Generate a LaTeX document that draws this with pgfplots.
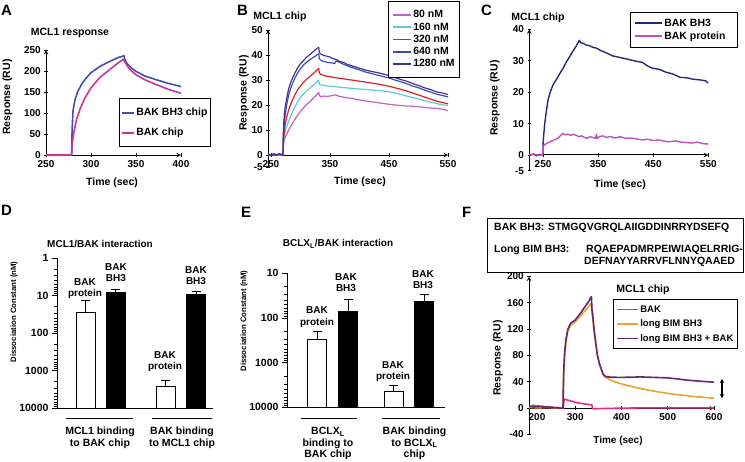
\documentclass[border=0pt]{standalone}
\usepackage{pgfplots}
\pgfplotsset{compat=1.18}
\usepackage{pgfplotstable}
\usepackage{fontspec}
\setmainfont{Liberation Sans}
\usetikzlibrary{arrows.meta}
\newcommand{\fs}[1]{\fontsize{#1bp}{#1bp}\selectfont\bfseries}
\newcommand{\lab}[3]{\node[anchor=base,inner sep=0] at (#1bp,-#2bp) {\fs{10}#3};}

\definecolor{aBlue}{HTML}{4050A8}
\definecolor{aMag}{HTML}{CC3399}
\definecolor{b80}{HTML}{C060C0}
\definecolor{b160}{HTML}{60C8D8}
\definecolor{b320}{HTML}{E02020}
\definecolor{b640}{HTML}{3550B0}
\definecolor{b1280}{HTML}{4B2D8F}
\definecolor{cNavy}{HTML}{26287E}
\definecolor{cOrch}{HTML}{C050C0}
\definecolor{fPink}{HTML}{E8288A}
\definecolor{fOrange}{HTML}{F0A030}
\definecolor{fPurple}{HTML}{6A2470}

\pgfplotsset{
  base/.style={scale only axis, anchor=south west,
    axis line style={-, line width=1pt, black},
    tick style={black, line width=0.8pt}, tick align=outside,
    major tick length=3.5bp, minor tick length=2.5bp,
    /pgf/number format/assume math mode=true,
    tick label style={font=\fs{10}},
    every axis plot/.append style={mark=none, line width=1.2pt, line join=round},
    legend cell align=left,
  },
  kd/.style={scale only axis, anchor=south west,
    axis x line=bottom, axis y line=left,
    axis line style={-, line width=1pt, black},
    tick style={black, line width=0.8pt}, tick align=outside,
    major tick length=5bp, minor tick length=3bp,
    xtick=\empty, ymin=0,
    tick label style={font=\fs{10.5}},
  },
  ebar/.style={ybar, bar width=19, bar shift=0pt, draw=black, line width=1pt,
    error bars/.cd, y dir=plus, y explicit, error bar style={line width=1pt, black},
    error mark options={rotate=90, mark size=4.5bp, line width=1pt, black}},
}

\pgfplotstableread{
x kd tip
85.5 28 13.8
165.5 2600 1800
}\Dwhite
\pgfplotstableread{
x kd tip
115.5 8.3 6.8
196 9.2 7.8
}\Dblack
\pgfplotstableread{
x kd tip
317 300 196
393.5 4390 3270
}\Ewhite
\pgfplotstableread{
x kd tip
348 73 38
424 43 29.5
}\Eblack

\begin{document}
\begin{tikzpicture}
\path[use as bounding box] (0,0) rectangle (745bp,-462bp);

% ---------------- Panel A
\begin{axis}[base, at={(46bp,-155bp)}, width=135bp, height=105bp,
  xmin=250, xmax=400, ymin=0, ymax=250,
  axis x line=bottom, axis y line=left,
  xtick={250,300,350,400}, ytick={0,50,100,150,200,250},
  legend style={at={(axis description cs:0.5407,0.5429)}, anchor=north west,
    draw=black, line width=1pt, fill=white, font=\fs{10.5},
    inner xsep=2bp, inner ysep=8.5bp, row sep=8.5bp,
    nodes={inner sep=1bp, text height=7.5bp, text depth=2bp}},
  legend image code/.code={\draw[#1, line width=1.8pt] (0bp,0bp) -- (12bp,0bp);},
]
\addplot[aBlue, line width=1.6pt] coordinates {(250,0)(278.5,0)(279,60)(280,105)(282,130)(285,150)(290,170)(295,184)(300,196)(310,211)(320,222)(330,232)(335,235)(336.5,237)(337.5,228)(340,218)(345,207)(350,199)(360,188)(370,181)(385,171)(400,163)};
\addlegendentry{BAK BH3 chip}
\addplot[aMag, line width=1.6pt] coordinates {(250,0)(278.5,0)(279,25)(281,55)(284,85)(288,110)(293,135)(300,160)(310,185)(320,202)(330,219)(336,228)(338,220)(341,210)(345,200)(350,191)(360,179)(370,170)(385,157)(400,147)};
\addlegendentry{BAK chip}
\end{axis}

% ---------------- Panel B
\begin{axis}[base, at={(268bp,-167.5bp)}, width=180bp, height=137.5bp,
  xmin=245, xmax=550, ymin=-5, ymax=50,
  axis x line=middle, axis y line=left,
  hide obscured x ticks=false, hide obscured y ticks=false,
  xtick={250,350,450,550}, ytick={-5,0,10,20,30,40,50},
  legend style={at={(axis description cs:0.6667,1.2109)}, anchor=north west,
    draw=black, line width=1pt, fill=white, font=\fs{10.5},
    inner xsep=4bp, inner ysep=7.8bp, row sep=0.75bp,
    nodes={inner sep=1bp, text height=7.5bp, text depth=2bp}},
  legend image code/.code={\draw[#1, line width=1.8pt] (0bp,0bp) -- (18bp,0bp);},
]
\addplot[b80] coordinates {(245,0.2)(256,-0.2)(270.5,0)(271,3.5)(272,5.5)(274,7)(277,8.5)(280,10)(285,12)(290,14)(295,15.8)(300,17.4)(305,18.8)(310,20.1)(315,21.2)(320,22.3)(325,23.5)(329,24.5)(331,25)(332,23.8)(335,23.3)(340,23.6)(345,23.4)(350,23.6)(355,23.9)(360,24)(365,23.5)(370,23.3)(380,22.8)(390,22.5)(400,22)(410,21.6)(420,21.3)(430,21)(440,20.6)(450,20.3)(460,20)(470,19.8)(480,19.6)(490,19.5)(500,19.3)(510,19)(520,18.8)(530,18.7)(540,18.3)(550,17.8)};
\addlegendentry{80 nM}
\addplot[b160] coordinates {(245,0)(258,0.3)(270.5,0)(271,4)(272,6.5)(274,9.5)(277,11.5)(280,13.5)(285,16.5)(290,19)(295,21.2)(300,23)(305,24.3)(310,25.6)(315,26.6)(320,27.6)(325,28.6)(329,29.5)(331,29.8)(332,28.3)(335,28)(340,27.9)(345,27.6)(350,27.5)(360,27.3)(370,27)(380,26.8)(390,26.6)(400,26.4)(410,26.2)(420,26)(430,25.8)(440,25.6)(450,25.3)(460,24.8)(470,24.2)(480,23.6)(490,23)(500,22.5)(510,21.8)(520,21.2)(530,20.6)(540,20.1)(550,19.8)};
\addlegendentry{160 nM}
\addplot[b320] coordinates {(245,0.2)(255,-0.2)(262,0.3)(270.5,0)(271,5)(272,8)(274,12)(277,15.5)(280,18)(285,21.3)(290,23.8)(295,26)(300,27.6)(305,29)(310,30.2)(315,31.2)(320,32.2)(325,33.3)(329,34.2)(331,34.6)(332,32.8)(335,32.2)(340,31.8)(345,31.5)(350,31.3)(360,30.9)(370,30.6)(380,30.2)(390,29.9)(400,29.5)(410,29.2)(420,28.8)(430,28.4)(440,28)(450,27.5)(460,26.9)(470,26.3)(480,25.6)(490,24.8)(500,24)(510,23.2)(520,22.4)(530,21.6)(540,21)(550,20.5)};
\addlegendentry{320 nM}
\addplot[b640] coordinates {(245,-0.3)(252,0.3)(258,0)(264,0.5)(270.5,0)(271,7)(272,11)(274,16)(277,20.5)(280,24)(285,27.8)(290,30.5)(295,32.8)(300,34.5)(305,36)(310,37)(315,38)(320,38.8)(325,39.5)(329,40.2)(331,40.5)(332,38.5)(335,37.8)(340,37.4)(345,37.1)(350,36.9)(355,36.8)(358,36.5)(360,37.6)(365,37.2)(370,36.6)(380,35.6)(390,34.8)(400,34)(410,33.2)(420,32.6)(430,32)(440,31.4)(450,30.8)(460,30)(470,29.3)(480,28.5)(490,27.6)(500,26.9)(510,26)(520,25.2)(530,24.4)(540,23.8)(550,23.3)};
\addlegendentry{640 nM}
\addplot[b1280] coordinates {(245,0.4)(250,-0.2)(255,0.5)(260,0)(265,0.3)(270.5,0.2)(271,9)(272,14)(274,19)(277,23)(280,26.5)(285,30)(290,32.5)(295,34.8)(300,36.5)(305,37.8)(310,39)(315,40)(320,41)(325,42)(329,42.8)(331,43)(332,41)(335,40.3)(340,39.8)(345,39.5)(350,39.2)(355,38.5)(360,38.3)(365,37.6)(370,37.2)(375,36.8)(380,36.1)(385,35.9)(390,35.4)(395,35.1)(400,34.7)(410,34)(420,33.4)(430,33)(440,32.4)(450,31.8)(460,31)(470,30.2)(480,29.5)(490,28.6)(500,27.8)(510,26.9)(520,26.2)(530,25.3)(540,24.8)(550,24.2)};
\addlegendentry{1280 nM}
\end{axis}

% ---------------- Panel C
\begin{axis}[base, at={(529.3bp,-170.7bp)}, width=179bp, height=141.4bp,
  xmin=225, xmax=550, ymin=-5, ymax=40,
  axis x line=middle, axis y line=left,
  hide obscured x ticks=false, hide obscured y ticks=false,
  xtick={250,350,450,550}, ytick={-5,0,10,20,30,40},
  legend style={at={(axis description cs:0.5626,1.1223)}, anchor=north west,
    draw=black, line width=1pt, fill=white, font=\fs{10.5},
    inner xsep=4bp, inner ysep=5bp, row sep=1.5bp,
    nodes={inner sep=1bp, text height=7.5bp, text depth=2bp}},
  legend image code/.code={\draw[#1, line width=1.8pt] (0bp,0bp) -- (27bp,0bp);},
]
\addplot[cNavy, line width=1.4pt] coordinates {(225,0)(232,0.3)(238,-0.2)(244,0.2)(249.5,0)(250,3.5)(251,6)(253,10)(256,14)(259,17.5)(263,20)(268,22.3)(274,24)(280,25.8)(286,27.5)(292,29.5)(298,31.2)(304,33)(310,34.6)(315,36.2)(316,36.5)(318,35.8)(322,35.6)(328,35)(334,34.8)(340,34.3)(347,34)(355,33.2)(365,32.5)(375,31.6)(385,31.2)(398,30.7)(410,30.2)(420,29.8)(430,29.5)(440,28.3)(449,27.6)(460,27.3)(474,26.3)(485,25.8)(499,24.7)(510,24.6)(523,24.1)(535,23.9)(545,23.6)(550,22.9)};
\addlegendentry{BAK BH3}
\addplot[cOrch, line width=1.4pt] coordinates {(225,0)(235,0.2)(245,-0.1)(249.5,0.3)(250,2.8)(253,3.3)(258,3.8)(264,4.3)(270,4.8)(276,5.2)(282,6.2)(286,6.9)(290,6.4)(295,6.7)(300,6.2)(305,6.6)(310,6.3)(315,5.8)(320,6.1)(325,5.6)(330,5.3)(335,5.8)(340,5.6)(345,5.3)(347,6.6)(348,5.2)(352,5.8)(358,6.1)(365,5.6)(372,5.9)(380,5.4)(390,5.8)(400,5.3)(410,5.4)(420,5.1)(430,4.8)(440,5)(450,4.6)(460,4.8)(470,4.4)(480,4.2)(490,4.5)(500,4.1)(510,4)(520,3.8)(530,4.1)(540,3.6)(550,3.5)};
\addlegendentry{BAK protein\hspace*{7bp}}
\end{axis}

% ---------------- Panel D
\begin{axis}[kd, at={(57bp,-408bp)}, width=156bp, height=150bp,
  xmin=57, xmax=213, ymax=4,
  ytick={0,1,2,3,4}, yticklabels={10000,1000,100,10,1},
  minor ytick={0.0458,0.0969,0.1549,0.2218,0.301,0.3979,0.5229,0.699,
    1.0458,1.0969,1.1549,1.2218,1.301,1.3979,1.5229,1.699,
    2.0458,2.0969,2.1549,2.2218,2.301,2.3979,2.5229,2.699,
    3.0458,3.0969,3.1549,3.2218,3.301,3.3979,3.5229,3.699},
]
\addplot[fill=white, ebar]
  table[x=x, y expr={ln(10000/\thisrow{kd})/ln(10)}, y error expr={ln(\thisrow{kd}/\thisrow{tip})/ln(10)}] {\Dwhite};
\addplot[fill=black, ebar]
  table[x=x, y expr={ln(10000/\thisrow{kd})/ln(10)}, y error expr={ln(\thisrow{kd}/\thisrow{tip})/ln(10)}] {\Dblack};
\end{axis}

% ---------------- Panel E
\begin{axis}[kd, at={(287bp,-407.3bp)}, width=158bp, height=134bp,
  xmin=287, xmax=445, ymax=3,
  ytick={0,1,2,3}, yticklabels={10000,1000,100,10},
  minor ytick={0.0458,0.0969,0.1549,0.2218,0.301,0.3979,0.5229,0.699,
    1.0458,1.0969,1.1549,1.2218,1.301,1.3979,1.5229,1.699,
    2.0458,2.0969,2.1549,2.2218,2.301,2.3979,2.5229,2.699},
]
\addplot[fill=white, ebar]
  table[x=x, y expr={ln(10000/\thisrow{kd})/ln(10)}, y error expr={ln(\thisrow{kd}/\thisrow{tip})/ln(10)}] {\Ewhite};
\addplot[fill=black, ebar]
  table[x=x, y expr={ln(10000/\thisrow{kd})/ln(10)}, y error expr={ln(\thisrow{kd}/\thisrow{tip})/ln(10)}] {\Eblack};
\end{axis}

% ---------------- Panel F
\begin{axis}[base, at={(529bp,-434.5bp)}, width=185bp, height=158bp,
  xmin=200, xmax=600, ymin=-40, ymax=200,
  axis x line=middle, axis y line=left,
  hide obscured x ticks=false, hide obscured y ticks=false,
  xtick={200,300,400,500,600}, xticklabels={\hspace*{16bp}200,300,400,500,600},
  ytick={-40,0,40,80,120,160,200},
  legend style={at={(axis description cs:0.4541,0.8576)}, anchor=north west,
    draw=black, line width=1pt, fill=white, font=\fs{9.5},
    inner xsep=3bp, inner ysep=4.5bp, row sep=3.5bp,
    nodes={inner sep=1bp, text height=7bp, text depth=2bp}},
  legend image code/.code={\draw[#1, line width=1.8pt] (0bp,0bp) -- (21bp,0bp);},
]
\addplot[fPink, line width=1.6pt] coordinates {(200,4)(205,2.5)(210,4.5)(215,3)(220,3.5)(225,2)(230,3)(235,1.5)(240,2.5)(245,1)(250,1.8)(255,0.5)(260,1.2)(265,0.3)(270,0.5)(274,0)(275,8)(276,13)(278,14)(282,12.5)(290,11)(300,9)(310,7.5)(320,6.5)(330,5.5)(336,5)(337,0)(340,-1)(360,-0.5)(400,0)(450,0.5)(500,0.5)(550,0.5)(600,0.5)};
\addlegendentry{BAK}
\addplot[fOrange, line width=1.6pt] coordinates {(200,1)(220,0.5)(240,1)(255,0.5)(265,0)(273.5,0)(274,20)(275,50)(277,80)(280,100)(284,117)(290,126)(300,131)(310,139)(320,147)(330,155)(333,158)(335,159)(336,145)(338,135)(340,120)(343,105)(348,80)(352,68)(357,57)(361,50)(365,47)(370,45)(380,41.5)(397,37.5)(410,35)(433,31)(450,28.5)(469,26)(490,23.5)(505,22)(520,20.5)(541,19)(560,17.5)(577,16.5)(600,15)};
\addlegendentry{long BIM BH3}
\addplot[fPurple, line width=1.6pt] coordinates {(200,2)(205,3)(210,1.5)(215,2.5)(220,2)(225,3)(230,1.5)(240,2)(250,1)(260,0.5)(270,0)(273.5,0)(274,25)(275,55)(277,85)(280,105)(284,120)(290,129)(300,134)(310,143)(320,153)(330,163)(333,168)(335,169)(336,150)(337.5,144)(340,125)(342.7,108)(347.7,81)(352,68)(357,58)(361,51)(365,48.5)(370,47.5)(380,47)(397,46.8)(420,47)(440,47.5)(460,47)(480,46.5)(500,46)(520,44.5)(541,42.6)(560,41.5)(580,40.5)(600,39.5)};
\addlegendentry{long BIM BH3 + BAK}
\end{axis}

% ---------------- texts
\node[anchor=north west,inner sep=0] at (1bp,-5bp) {\fs{15}A};
\node[anchor=north west,inner sep=0] at (237bp,-5bp) {\fs{15}B};
\node[anchor=north west,inner sep=0] at (481bp,-5bp) {\fs{15}C};
\node[anchor=north west,inner sep=0] at (1bp,-205bp) {\fs{15}D};
\node[anchor=north west,inner sep=0] at (241bp,-207bp) {\fs{15}E};
\node[anchor=north west,inner sep=0] at (462bp,-207bp) {\fs{15}F};

\node at (70bp,-33bp) {\fs{10.5}MCL1 response};
\node at (280bp,-17bp) {\fs{10.5}MCL1 chip};
\node at (538bp,-18bp) {\fs{10.5}MCL1 chip};
\node at (100bp,-244bp) {\fs{10}MCL1/BAK interaction};
\node at (338bp,-244bp) {\fs{10}BCLX\textsubscript{L}/BAK interaction};
\node at (643bp,-290bp) {\fs{10.5}MCL1 chip};

\node at (112bp,-183bp) {\fs{10.5}Time (sec)};
\node at (360bp,-182bp) {\fs{10.5}Time (sec)};
\node at (620bp,-185bp) {\fs{10.5}Time (sec)};
\node at (618bp,-441bp) {\fs{10}Time (sec)};
\node[rotate=90] at (7.5bp,-97bp) {\fs{10.5}Response (RU)};
\node[rotate=90] at (244bp,-93bp) {\fs{10.5}Response (RU)};
\node[rotate=90] at (495bp,-98bp) {\fs{10.5}Response (RU)};
\node[rotate=90] at (498bp,-358bp) {\fs{10.5}Response (RU)};
\node[rotate=90] at (14bp,-312bp) {\fs{7.8}Dissociation Constant (nM)};
\node[rotate=90] at (244bp,-321bp) {\fs{7.8}Dissociation Constant (nM)};

% bar labels D
\lab{85}{285.5}{BAK}\lab{85}{296.5}{protein}
\lab{116}{270.5}{BAK}\lab{116}{281.5}{BH3}
\lab{165}{358.5}{BAK}\lab{165}{369.5}{protein}
\lab{196}{273.5}{BAK}\lab{196}{284.5}{BH3}
% bar labels E
\lab{317}{313.5}{BAK}\lab{317}{325}{protein}
\lab{346}{280.5}{BAK}\lab{346}{291.5}{BH3}
\lab{393}{368.5}{BAK}\lab{393}{379.5}{protein}
\lab{423}{277.5}{BAK}\lab{423}{288}{BH3}

% group lines and labels
\draw[line width=1pt] (66bp,-418bp) -- (133bp,-418bp);
\draw[line width=1pt] (152bp,-418bp) -- (212bp,-418bp);
\draw[line width=1pt] (301bp,-418bp) -- (357bp,-418bp);
\draw[line width=1pt] (382bp,-418bp) -- (440bp,-418bp);
\node[anchor=north, align=center, inner sep=0, font={\fontsize{10.5bp}{11.5bp}\selectfont\bfseries}] at (100bp,-427bp) {MCL1 binding\\to BAK chip};
\node[anchor=north, align=center, inner sep=0, font={\fontsize{10.5bp}{11.5bp}\selectfont\bfseries}] at (182bp,-427bp) {BAK binding\\to MCL1 chip};
\node[anchor=north, align=center, inner sep=0, font={\fontsize{10.5bp}{11.5bp}\selectfont\bfseries}] at (328bp,-427bp) {BCLX\textsubscript{L}\\binding to\\BAK chip};
\node[anchor=north, align=center, inner sep=0, font={\fontsize{10.5bp}{11.5bp}\selectfont\bfseries}] at (414.5bp,-427bp) {BAK binding\\to BCLX\textsubscript{L}\\chip};

% sequence box
\draw[line width=1pt] (487bp,-218bp) rectangle (743.5bp,-272bp);
\node[anchor=west, inner sep=0] at (494bp,-227.5bp) {\fs{10.5}BAK BH3: STMGQVGRQLAIIGDDINRRYDSEFQ};
\node[anchor=west, inner sep=0] at (494bp,-250bp) {\fs{10.5}Long BIM BH3:};
\node[anchor=west, inner sep=0] at (586bp,-250bp) {\fs{10.5}RQAEPADMRPEIWIAQELRRIG-};
\node[anchor=west, inner sep=0] at (584bp,-262bp) {\fs{10.5}DEFNAYYARRVFLNNYQAAED};

\draw[{Stealth[length=4bp,width=4.5bp]}-{Stealth[length=4bp,width=4.5bp]}, line width=1.2pt] (722bp,-379bp) -- (722bp,-398bp);
\end{tikzpicture}
\end{document}
